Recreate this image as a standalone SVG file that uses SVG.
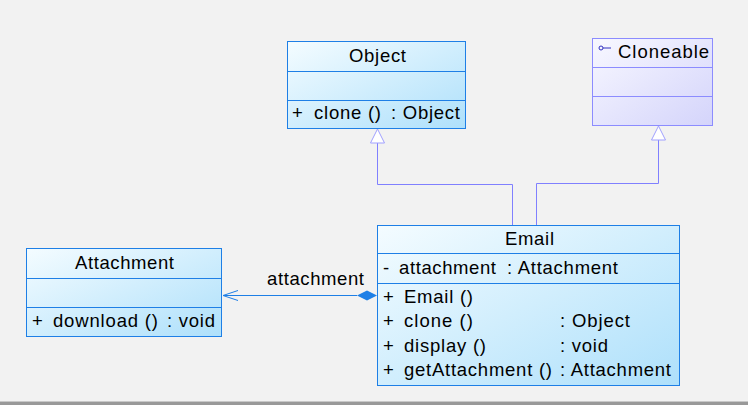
<svg xmlns="http://www.w3.org/2000/svg" width="748" height="405" viewBox="0 0 748 405">
<defs>
<linearGradient id="gb" x1="0" y1="0" x2="1" y2="1">
<stop offset="0" stop-color="#f4fcff"/>
<stop offset="1" stop-color="#aee0fb"/>
</linearGradient>
<linearGradient id="gp" x1="0" y1="0" x2="1" y2="1">
<stop offset="0" stop-color="#f8f8ff"/>
<stop offset="1" stop-color="#d4d4fb"/>
</linearGradient>
</defs>
<style>
.bx{fill:url(#gb);stroke:#1e7fe6;stroke-width:1}
.bp{fill:url(#gp);stroke:#8c8cff;stroke-width:1}
.dv{stroke:#1e7fe6;stroke-width:1}
.dp{stroke:#8c8cff;stroke-width:1}
text{font-family:"Liberation Sans",Arial,sans-serif;font-size:18.500px;fill:#000}
.ln{fill:none;stroke:#8080ff;stroke-width:1}
.tri{fill:#ffffff;stroke:#a0a0ff;stroke-width:1}
</style>
<rect x="0" y="0" width="748" height="405" fill="#f2f2f2"/>
<rect x="0" y="401" width="748" height="1" fill="#c8c8c8"/>
<rect x="0" y="402" width="748" height="3" fill="#999999"/>
<g id="connectors">
<polyline class="ln" points="512.500,225 512.500,184.500 377.500,184.500 377.500,143"/>
<path class="tri" d="M377.500 129 L370.500 143 L384.500 143 Z"/>
<polyline class="ln" points="536.500,225 536.500,183.500 658.500,183.500 658.500,140"/>
<path class="tri" d="M658.500 126 L651.500 140 L665.500 140 Z"/>
<line x1="223" y1="295.500" x2="357" y2="295.500" stroke="#1e7fe6" stroke-width="1"/>
<polyline points="238,290.500 223,295.500 238,300.500" fill="none" stroke="#1e7fe6" stroke-width="1"/>
<path d="M357 295.500 L367 290.500 L377 295.500 L367 300.500 Z" fill="#1e7fe6"/>
<text x="267" y="285" textLength="97" lengthAdjust="spacing">attachment</text>
</g>
<g id="Object">
<rect class="bx" x="287.500" y="41.500" width="178" height="87"/>
<line class="dv" x1="287.500" y1="71.500" x2="465.500" y2="71.500"/>
<line class="dv" x1="287.500" y1="100.500" x2="465.500" y2="100.500"/>
<text x="349" y="62" textLength="57" lengthAdjust="spacing">Object</text>
<text x="292" y="119">+</text>
<text x="314" y="119" textLength="67" lengthAdjust="spacing">clone ()</text>
<text x="391" y="119" textLength="69" lengthAdjust="spacing">: Object</text>
</g>
<g id="Cloneable">
<rect class="bp" x="592.500" y="38.500" width="120" height="87"/>
<line class="dp" x1="592.500" y1="67.500" x2="712.500" y2="67.500"/>
<line class="dp" x1="592.500" y1="96.500" x2="712.500" y2="96.500"/>
<circle cx="601" cy="48" r="2" fill="none" stroke="#3030c0" stroke-width="1"/>
<line x1="603" y1="48" x2="611" y2="48" stroke="#3030c0" stroke-width="1"/>
<text x="618" y="58" textLength="91" lengthAdjust="spacing">Cloneable</text>
</g>
<g id="Attachment">
<rect class="bx" x="26.500" y="248.500" width="195" height="88"/>
<line class="dv" x1="26.500" y1="278.500" x2="221.500" y2="278.500"/>
<line class="dv" x1="26.500" y1="307.500" x2="221.500" y2="307.500"/>
<text x="75" y="269" textLength="99" lengthAdjust="spacing">Attachment</text>
<text x="32" y="327">+</text>
<text x="53" y="327" textLength="105" lengthAdjust="spacing">download ()</text>
<text x="167" y="327" textLength="48" lengthAdjust="spacing">: void</text>
</g>
<g id="Email">
<rect class="bx" x="377.500" y="225.500" width="302" height="160"/>
<line class="dv" x1="377.500" y1="253.500" x2="679.500" y2="253.500"/>
<line class="dv" x1="377.500" y1="283.500" x2="679.500" y2="283.500"/>
<text x="505" y="245" textLength="49" lengthAdjust="spacing">Email</text>
<text x="383" y="274">-</text>
<text x="399" y="274" textLength="97" lengthAdjust="spacing">attachment</text>
<text x="507" y="274" textLength="111" lengthAdjust="spacing">: Attachment</text>
<text x="383" y="303">+</text>
<text x="404" y="303" textLength="69" lengthAdjust="spacing">Email ()</text>
<text x="383" y="327">+</text>
<text x="404" y="327" textLength="69" lengthAdjust="spacing">clone ()</text>
<text x="560" y="327" textLength="70" lengthAdjust="spacing">: Object</text>
<text x="383" y="352">+</text>
<text x="404" y="352" textLength="82" lengthAdjust="spacing">display ()</text>
<text x="560" y="352" textLength="48" lengthAdjust="spacing">: void</text>
<text x="383" y="376">+</text>
<text x="404" y="376" textLength="148" lengthAdjust="spacing">getAttachment ()</text>
<text x="560" y="376" textLength="111" lengthAdjust="spacing">: Attachment</text>
</g>
</svg>
